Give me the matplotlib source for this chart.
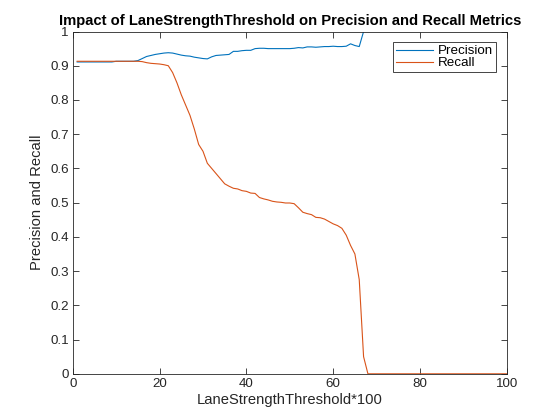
import numpy as np
import matplotlib
matplotlib.use("Agg")
import matplotlib.pyplot as plt

plt.rcParams['font.family'] = ['Liberation Sans', 'DejaVu Sans']

# threshold*100 values
thresh = np.arange(1, 101)

precision = [0.911] * 9 + [0.913] * 5 + [
    0.915, 0.921, 0.927, 0.930, 0.933, 0.935, 0.937, 0.938, 0.937, 0.934,
    0.931, 0.929, 0.928, 0.925, 0.923, 0.921, 0.920, 0.926, 0.930, 0.931,
    0.932, 0.933, 0.942, 0.942, 0.944, 0.945, 0.945, 0.950, 0.951, 0.951,
    0.950, 0.950, 0.950, 0.950, 0.950, 0.950, 0.951, 0.953, 0.952, 0.955,
    0.955, 0.954, 0.955, 0.956, 0.956, 0.957, 0.956, 0.956, 0.957, 0.964,
    0.959, 0.956, 1.0, 1.0]
# no detections past 68 -> precision undefined
precision = precision + [np.nan] * (100 - len(precision))

recall = [0.913] * 15 + [
    0.912, 0.909, 0.907, 0.906, 0.905, 0.903, 0.900, 0.880, 0.850, 0.815,
    0.785, 0.755, 0.715, 0.670, 0.650, 0.615, 0.600, 0.585, 0.570, 0.555,
    0.548, 0.542, 0.540, 0.535, 0.533, 0.528, 0.527, 0.515, 0.511, 0.508,
    0.504, 0.502, 0.501, 0.499, 0.499, 0.497, 0.485, 0.472, 0.468, 0.465,
    0.457, 0.456, 0.452, 0.445, 0.438, 0.433, 0.425, 0.405, 0.375, 0.350,
    0.275, 0.050]
recall = recall + [0.0] * (100 - len(recall))

fig = plt.figure(figsize=(5.6, 4.2), dpi=100)
ax = fig.add_axes([0.13, 0.11, 0.775, 0.815])

ax.plot(thresh, precision, color='#0072BD', lw=0.8, label='Precision')
ax.plot(thresh, recall, color='#D95319', lw=0.8, label='Recall')

ax.set_xlim(0, 100)
ax.set_ylim(0, 1)
ax.set_xticks(np.arange(0, 101, 20))
ax.set_yticks(np.arange(0, 1.01, 0.1))
ax.set_yticklabels(['0', '0.1', '0.2', '0.3', '0.4', '0.5', '0.6', '0.7', '0.8', '0.9', '1'])

ax.tick_params(direction='in', top=True, right=True, length=4, width=0.6,
               labelsize=9.6, colors='#262626', pad=3)
for s in ax.spines.values():
    s.set_linewidth(0.6)
    s.set_color('#262626')

ax.set_xlabel('LaneStrengthThreshold*100', fontsize=10.6, color='#262626', labelpad=2)
ax.set_ylabel('Precision and Recall', fontsize=10.6, color='#262626', labelpad=4)
ax.set_title('Impact of LaneStrengthThreshold on Precision and Recall Metrics',
             fontsize=10.6, fontweight='bold', pad=5)

leg = ax.legend(loc='upper right', fontsize=9.6, fancybox=False, framealpha=1,
                edgecolor='#262626', borderpad=0.2, handlelength=2.8,
                labelspacing=0.0, borderaxespad=0.8, handletextpad=0.4)
leg.get_frame().set_linewidth(0.6)

fig.savefig('out.png', dpi=100)
